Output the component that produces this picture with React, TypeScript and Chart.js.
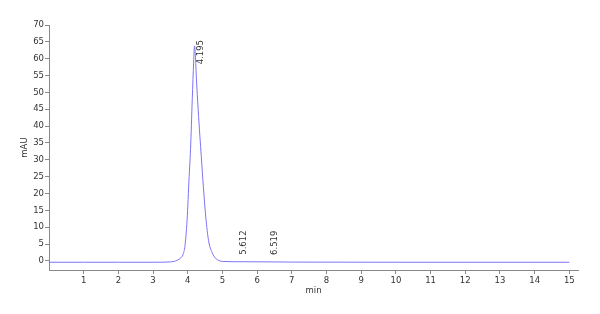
import React, { useEffect, useRef } from "react";
import { Chart, registerables } from "chart.js";

Chart.register(...registerables);

const times = [0, 1, 2, 3, 3.5, 3.7, 3.8, 3.86, 3.92, 3.98, 4.04, 4.08, 4.13, 4.17, 4.195, 4.22, 4.25, 4.3, 4.35, 4.39, 4.45, 4.52, 4.6, 4.7, 4.8, 4.9, 5.0, 5.6, 6.5, 7, 10, 15];
const signal = [-0.4, -0.4, -0.4, -0.4, -0.3, 0.2, 0.9, 1.8, 4.5, 12, 25, 33, 48, 59, 63.8, 61, 54, 45, 37, 31, 22, 13, 6, 2.5, 0.8, 0.1, -0.15, -0.25, -0.3, -0.35, -0.4, -0.4];
const peakTimes = [4.195, 5.612, 6.519];
const peakHeights = [63.8, -0.25, -0.3];
const peakLabels = ["4.195", "5.612", "6.519"];
const xTicks = [1, 2, 3, 4, 5, 6, 7, 8, 9, 10, 11, 12, 13, 14, 15];
const yTicks = [0, 5, 10, 15, 20, 25, 30, 35, 40, 45, 50, 55, 60, 65, 70];

const FONT = "DejaVu Sans";
const AXIS = "#8a8a8a";
const TEXT = "#333333";

const peakLabelPlugin = {
  id: "peakLabels",
  afterDatasetsDraw(chart: any) {
    const { ctx, chartArea, scales } = chart;
    ctx.save();
    ctx.font = `8.5px "${FONT}"`;
    ctx.fillStyle = TEXT;
    ctx.textBaseline = "middle";
    ctx.textAlign = "left";
    peakLabels.forEach((lab, i) => {
      let x = scales.x.getPixelForValue(peakTimes[i]);
      const y = scales.y.getPixelForValue(peakHeights[i]);
      const w = ctx.measureText(lab).width;
      let start = y - 7;
      if (start - w < chartArea.top + 15) {
        start = chartArea.top + 15 + w;
        x += 6;
      }
      ctx.save();
      ctx.translate(x, start);
      ctx.rotate(-Math.PI / 2);
      ctx.fillText(lab, 0, 0);
      ctx.restore();
    });
    ctx.restore();
  },
};

export default function App() {
  const ref = useRef<HTMLCanvasElement | null>(null);
  useEffect(() => {
    if (!ref.current) return;
    Chart.defaults.font.family = FONT;
    const chart = new Chart(ref.current, {
      type: "line",
      data: {
        datasets: [
          {
            data: times.map((t, i) => ({ x: t, y: signal[i] })),
            borderColor: "rgb(125,115,245)",
            borderWidth: 1,
            pointRadius: 0,
            cubicInterpolationMode: "monotone",
            fill: false,
          },
        ],
      },
      options: {
        animation: false,
        responsive: false,
        layout: { padding: { top: 25, right: 22, left: 0, bottom: 0 } },
        plugins: { legend: { display: false }, tooltip: { enabled: false } },
        scales: {
          x: {
            type: "linear",
            min: 0,
            max: 15.25,
            afterBuildTicks: (s: any) => {
              s.ticks = xTicks.map((v) => ({ value: v }));
            },
            afterFit: (s: any) => {
              s.height = 44;
            },
            grid: { drawOnChartArea: false, color: AXIS, tickLength: 4 },
            border: { color: AXIS },
            ticks: { color: TEXT, font: { size: 8.5 }, padding: 2, maxRotation: 0, autoSkip: false },
            title: { display: true, text: "min", color: TEXT, font: { size: 8.5 }, padding: { top: 0, bottom: 18 } },
          },
          y: {
            min: -2.7,
            max: 70,
            afterBuildTicks: (s: any) => {
              s.ticks = yTicks.map((v) => ({ value: v }));
            },
            afterFit: (s: any) => {
              s.width = 49;
            },
            grid: { drawOnChartArea: false, color: AXIS, tickLength: 4 },
            border: { color: AXIS },
            ticks: { color: TEXT, font: { size: 8.5 }, padding: 1, autoSkip: false },
            title: { display: true, text: "mAU", color: TEXT, font: { size: 8.5 }, padding: { top: 20, bottom: 0 } },
          },
        },
      },
      plugins: [peakLabelPlugin],
    } as any);
    return () => chart.destroy();
  }, []);
  return (
    <div style={{ position: "absolute", left: 0, top: 0, width: 600, height: 314 }}>
      <canvas ref={ref} width={600} height={314} />
    </div>
  );
}
